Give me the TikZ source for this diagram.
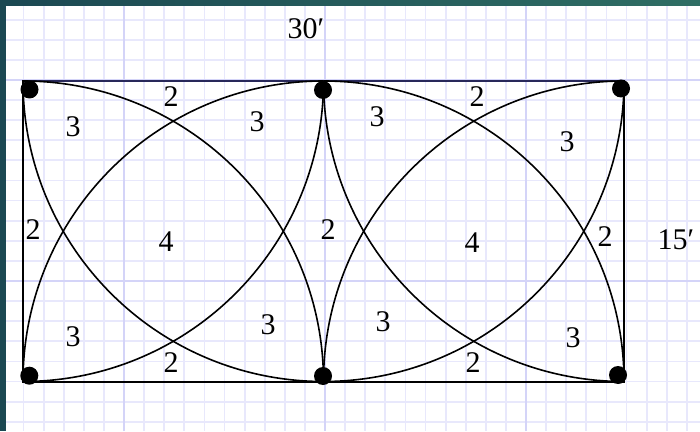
\documentclass[tikz,border=0pt]{standalone}
\usepackage{fontspec}
\setmainfont{Liberation Serif}
\usetikzlibrary{calc}

\definecolor{slideA}{RGB}{27,72,82}
\definecolor{slideB}{RGB}{47,110,100}
\definecolor{gridminor}{RGB}{232,232,252}
\definecolor{gridmajor}{RGB}{212,212,248}
\definecolor{topline}{RGB}{40,40,90}

\begin{document}
\begin{tikzpicture}[x=1pt, y=1pt, font=\fontsize{30}{32}\selectfont]
		\tikzset{post/.style={circle, fill=black, minimum size=18pt, inner sep=0pt},
			num/.style={inner sep=0pt},
			arcline/.style={line width=1.6pt}}
		\useasboundingbox (0,0) rectangle (700,431);
		\fill[white] (0,0) rectangle (700,431);
		% graph paper
		\foreach \i in {0,...,34} \draw[gridminor, line width=1.8pt] ({3.4+20.1*\i},0) -- ++(0,431);
		\foreach \i in {0,...,20} \draw[gridminor, line width=1.8pt] (0,{411.3-20.1*\i}) -- ++(700,0);
		\foreach \x in {124,325,526} \draw[gridmajor, line width=1.8pt] (\x,0) -- ++(0,431);
		\foreach \y in {351,150} \draw[gridmajor, line width=1.8pt] (0,\y) -- ++(700,0);
		% slide edge
		\fill[slideA] (0,0) rectangle (6,431);
		\shade[left color=slideA, right color=slideB] (0,425) rectangle (700,431);
		% corners of the two squares
		\coordinate (tl) at (23,350);
		\coordinate (tm) at (323.5,350);
		\coordinate (tr) at (624,350);
		\coordinate (bl) at (23,49.5);
		\coordinate (bm) at (323.5,49.5);
		\coordinate (br) at (624,49.5);
		\draw[line width=2pt] (tl) rectangle (br);
		\draw[topline, line width=2pt] (tl) -- (tr);
		% quarter circles, one round each corner
		\foreach \a/\b/\c/\d in {tl/tm/bl/bm, tm/tr/bm/br} {
			\draw[arcline] (\a) arc[start angle=90, end angle=0, radius=300.5pt];
			\draw[arcline] (\b) arc[start angle=90, end angle=180, radius=300.5pt];
			\draw[arcline] (\b) arc[start angle=0, end angle=-90, radius=300.5pt];
			\draw[arcline] (\a) arc[start angle=180, end angle=270, radius=300.5pt];
		}
		% posts
		\node[post] (p-tl) at (29.5,341.5) {};
		\node[post] (p-tm) at (323,341) {};
		\node[post] (p-tr) at (621,342.5) {};
		\node[post] (p-bl) at (29.3,55.3) {};
		\node[post] (p-bm) at (323,55) {};
		\node[post] (p-br) at (618,56) {};
		% sizes
		\node[num] (len) at (306,402) {30′};
		\node[num] (wid) at (676,191) {15′};
		% counts
		\foreach \p/\t [count=\k] in {{171,334}/2, {73,304}/3, {257,309}/3, {33,201}/2, {166,189}/4, {328,201}/2,
			{73,94}/3, {171,68}/2, {268,106}/3, {477,334}/2, {377,314}/3, {567,289}/3, {472,188}/4,
			{605,194}/2, {383,109}/3, {473,68}/2, {573,93}/3}
			\node[num] (c\k) at (\p) {\t};
	\end{tikzpicture}
\end{document}
